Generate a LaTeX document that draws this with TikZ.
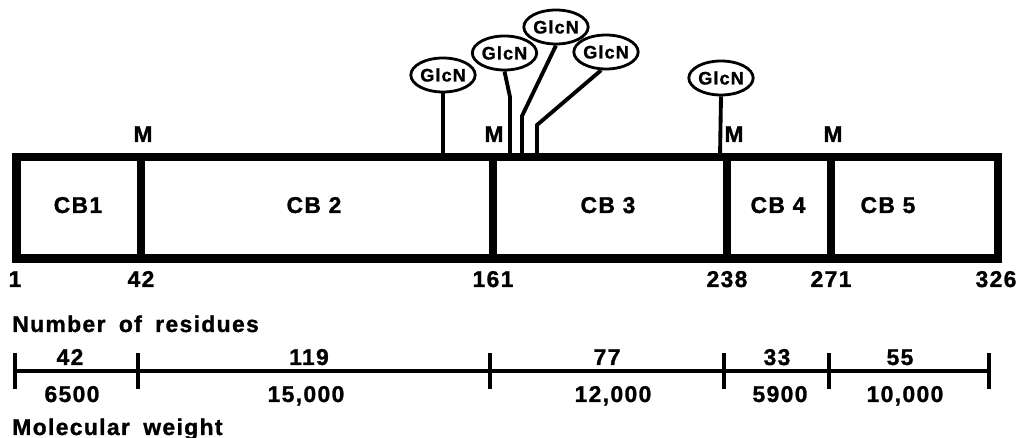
\documentclass[tikz,border=0pt]{standalone}
\usepackage{fontspec}
\setmainfont[LetterSpace=6,BoldFeatures={FakeBold=1.2}]{Liberation Sans}
\usetikzlibrary{shapes.geometric}
\begin{document}
\begin{tikzpicture}[x=0.02cm,y=-0.02cm,
  lbl/.style={font=\fontsize{13}{15}\selectfont\bfseries, inner sep=0, anchor=base},
  lblw/.style={font=\fontsize{13}{15}\selectfont\bfseries, inner sep=0, anchor=base west},
  glc/.style={draw, ellipse, line width=1.6pt, minimum width=1.08cm, minimum height=0.68cm, inner sep=0, font=\fontsize{10.3}{12}\selectfont\bfseries},
  stalk/.style={line width=2.2pt},
  boxframe/.style={line width=5pt},
  divider/.style={line width=4.5pt},
  scaleline/.style={line width=2pt},
  tickmark/.style={line width=2pt}]
\useasboundingbox (0,0) rectangle (1025,438);
% main box
\draw[boxframe] (16.5,157) rectangle (998,258.5);
\foreach \x in {141,493,727,831} \draw[divider] (\x,157) -- (\x,258.5);
% segment labels
\node[lbl] (cb1) at (78,213) {CB1};
\node[lbl] (cb2) at (314,213) {CB 2};
\node[lbl] (cb3) at (608,213) {CB 3};
\node[lbl] (cb4) at (778,213) {CB 4};
\node[lbl] (cb5) at (888,213) {CB 5};
% M labels
\node[lbl] (m1) at (143,142) {M};
\node[lbl] (m2) at (494,142) {M};
\node[lbl] (m3) at (734,142) {M};
\node[lbl] (m4) at (833,142) {M};
% residue positions
\node[lbl] (p1) at (15,287) {1};
\node[lbl] (p42) at (141,287) {42};
\node[lbl] (p161) at (493,287) {161};
\node[lbl] (p238) at (727,287) {238};
\node[lbl] (p271) at (831,287) {271};
\node[lbl] (p326) at (996,287) {326};
% GlcN
\node[glc] (g1) at (443,75) {GlcN};
\node[glc] (g2) at (504.5,53) {GlcN};
\node[glc] (g3) at (556,27) {GlcN};
\node[glc] (g4) at (606,52) {GlcN};
\node[glc] (g5) at (721,78) {GlcN};
\coordinate (s1) at (443,157);
\coordinate (s2) at (510,157);
\coordinate (s3) at (522,157);
\coordinate (s4) at (537,157);
\coordinate (s5) at (720,157);
\draw[stalk] (g1.south) -- (s1);
\draw[stalk] (g2.south) -- (510,97) -- (s2);
\draw[stalk] (g3.south) -- (522,116) -- (s3);
\draw[stalk] (g4.255) -- (537,125) -- (s4);
\draw[stalk] (g5.south) -- (s5);
% scale
\node[lblw] (nr) at (12,332) {Number\hspace{0.25em} of\hspace{0.25em} residues};
\node[lblw] (mw) at (12,435) {Molecular\hspace{0.25em} weight};
\coordinate (t0) at (15,371);
\coordinate (t5) at (989,371);
\draw[scaleline] (t0) -- (t5);
\foreach \x in {15,138,490,724,829,989} \draw[tickmark] (\x,353) -- (\x,389);
\node[lbl] (r1) at (70,365) {42};
\node[lbl] (r2) at (309,365) {119};
\node[lbl] (r3) at (607,365) {77};
\node[lbl] (r4) at (777,365) {33};
\node[lbl] (r5) at (900,365) {55};
\node[lbl] (w1) at (72,402) {6500};
\node[lbl] (w2) at (306,402) {15,000};
\node[lbl] (w3) at (613,402) {12,000};
\node[lbl] (w4) at (780,402) {5900};
\node[lbl] (w5) at (905,402) {10,000};
\end{tikzpicture}
\end{document}
